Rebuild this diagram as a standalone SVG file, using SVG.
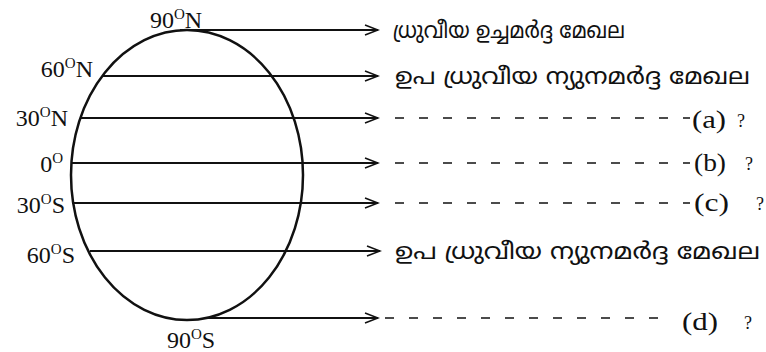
<svg xmlns="http://www.w3.org/2000/svg" width="766" height="352" viewBox="0 0 766 352">
<style>
.lat{font-family:"Liberation Serif","Times New Roman",serif;font-size:24px;fill:#111}
.sup{font-size:15px}
.ml{font-family:"Noto Sans Malayalam","Noto Serif Malayalam","Lohit Malayalam","Noto Sans",sans-serif;font-size:23px;fill:#111}
.ans{font-family:"Liberation Serif","Times New Roman",serif;font-size:25px;fill:#111}
.q{font-family:"Liberation Serif","Times New Roman",serif;font-size:18px;fill:#111}
.ln{stroke:#111;stroke-width:2;fill:none}
.dash{stroke:#111;stroke-width:1.6;stroke-dasharray:9 15;fill:none}
</style>
<defs>
<marker id="arr" markerUnits="userSpaceOnUse" markerWidth="16" markerHeight="14" refX="14" refY="6" orient="auto">
<path d="M1,1 L14,6 L1,11" fill="none" stroke="#111" stroke-width="1.6"/>
</marker>
</defs>
<rect width="766" height="352" fill="#fff"/>
<g id="globe">
<ellipse cx="187" cy="175" rx="116" ry="145" fill="none" stroke="#111" stroke-width="2.5"/>
</g>
<g id="connectors">
<line class="ln" x1="180" y1="30" x2="378" y2="30" marker-end="url(#arr)"/>
<line class="ln" x1="102" y1="76" x2="378" y2="76" marker-end="url(#arr)"/>
<line class="ln" x1="80" y1="118" x2="378" y2="118" marker-end="url(#arr)"/>
<line class="ln" x1="71" y1="163" x2="378" y2="163" marker-end="url(#arr)"/>
<line class="ln" x1="72" y1="203" x2="378" y2="203" marker-end="url(#arr)"/>
<line class="ln" x1="90" y1="251" x2="380" y2="251" marker-end="url(#arr)"/>
<line class="ln" x1="206" y1="318" x2="378" y2="318" marker-end="url(#arr)"/>
<line class="dash" x1="395" y1="118" x2="690" y2="118"/>
<line class="dash" x1="395" y1="163" x2="690" y2="163"/>
<line class="dash" x1="395" y1="203" x2="690" y2="203"/>
<line class="dash" x1="385" y1="318" x2="668" y2="318"/>
</g>
<g id="lat-90N"><text class="lat" x="150" y="28">90<tspan class="sup" dy="-9">O</tspan><tspan dy="9">N</tspan></text></g>
<g id="lat-60N"><text class="lat" x="93" y="77" text-anchor="end">60<tspan class="sup" dy="-9">O</tspan><tspan dy="9">N</tspan></text></g>
<g id="lat-30N"><text class="lat" x="68" y="126" text-anchor="end">30<tspan class="sup" dy="-9">O</tspan><tspan dy="9">N</tspan></text></g>
<g id="lat-0"><text class="lat" x="63" y="172" text-anchor="end">0<tspan class="sup" dy="-9">O</tspan></text></g>
<g id="lat-30S"><text class="lat" x="65" y="213" text-anchor="end">30<tspan class="sup" dy="-9">O</tspan><tspan dy="9">S</tspan></text></g>
<g id="lat-60S"><text class="lat" x="75" y="263" text-anchor="end">60<tspan class="sup" dy="-9">O</tspan><tspan dy="9">S</tspan></text></g>
<g id="lat-90S"><text class="lat" x="167" y="348">90<tspan class="sup" dy="-9">O</tspan><tspan dy="9">S</tspan></text></g>
<g id="zone-1"><text class="ml" x="393" y="38" textLength="232" lengthAdjust="spacingAndGlyphs">ധ്രുവീയ ഉച്ചമർദ്ദ മേഖല</text></g>
<g id="zone-2"><text class="ml" x="395" y="84" textLength="355" lengthAdjust="spacingAndGlyphs">ഉപ ധ്രുവീയ ന്യുനമർദ്ദ മേഖല</text></g>
<g id="zone-a"><text class="ans" x="692" y="128" textLength="34" lengthAdjust="spacingAndGlyphs">(a)</text><text class="q" x="737" y="127">?</text></g>
<g id="zone-b"><text class="ans" x="694" y="171" textLength="32" lengthAdjust="spacingAndGlyphs">(b)</text><text class="q" x="745" y="170">?</text></g>
<g id="zone-c"><text class="ans" x="694" y="211" textLength="35" lengthAdjust="spacingAndGlyphs">(c)</text><text class="q" x="756" y="210">?</text></g>
<g id="zone-6"><text class="ml" x="395" y="259" textLength="365" lengthAdjust="spacingAndGlyphs">ഉപ ധ്രുവീയ ന്യുനമർദ്ദ മേഖല</text></g>
<g id="zone-d"><text class="ans" x="682" y="330" textLength="36" lengthAdjust="spacingAndGlyphs">(d)</text><text class="q" x="744" y="329">?</text></g>
</svg>
